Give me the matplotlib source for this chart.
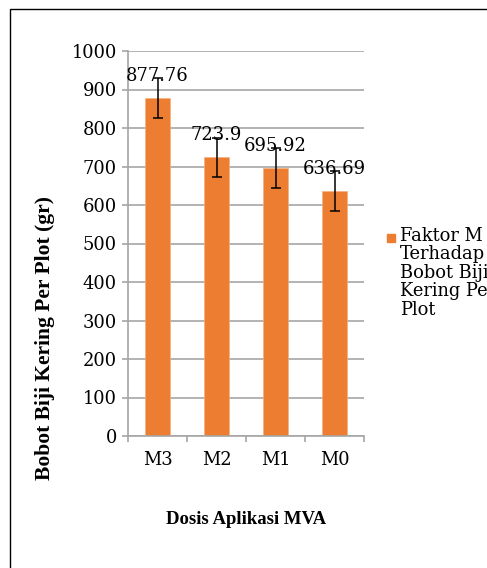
import numpy as np
import matplotlib.pyplot as plt
from matplotlib.patches import Rectangle

categories = ['M3', 'M2', 'M1', 'M0']
values = [877.76, 723.9, 695.92, 636.69]
errors = [52, 51, 52, 51]
value_labels = ['877.76', '723.9', '695.92', '636.69']
legend_label = 'Faktor M\nTerhadap\nBobot Biji\nKering Per\nPlot'

orange = '#ED7D31'
grey = '#A6A6A6'
tick_font = 'DejaVu Serif'
label_font = 'Liberation Serif'
fs = 12.9

fig = plt.figure(figsize=(4.87, 5.68), dpi=100)
W, H = 487, 568

# outer chart border (cut off at right and bottom like the reference)
fig.patches.append(Rectangle((9.5 / W, -0.1), 1.2, 1 - 9.5 / H + 0.1,
                             transform=fig.transFigure, fill=False,
                             edgecolor='black', linewidth=1.0))

ax = fig.add_axes([128 / W, 1 - 436 / H, (364 - 128) / W, (436 - 51) / H])
x = np.arange(len(categories))
ax.bar(x, values, width=0.41, color=orange, edgecolor='#F4B183', linewidth=0.5, zorder=2)
ax.errorbar(x, values, yerr=errors, fmt='none', ecolor='black',
            elinewidth=1.1, capsize=3.3, capthick=1.1, zorder=3)

for xi, v, lab in zip(x, values, value_labels):
    ax.annotate(lab, (xi, v), xytext=(0, 16), textcoords='offset points',
                ha='center', va='center', fontsize=fs, family=tick_font, zorder=4)

ax.set_xlim(-0.5, 3.5)
ax.set_ylim(0, 1000)
ax.set_yticks(np.arange(0, 1001, 100))
ax.set_xticks(x)
ax.set_xticklabels(categories, family=tick_font, fontsize=fs)
for t in ax.get_yticklabels():
    t.set_family(tick_font)
    t.set_fontsize(fs)
ax.set_xticks(np.arange(-0.5, 4, 1), minor=True)
ax.tick_params(axis='x', which='major', length=0, pad=11)
ax.tick_params(axis='x', which='minor', length=4, color=grey, width=1.2)
ax.tick_params(axis='y', length=4, color=grey, width=1.2, pad=4)
ax.grid(axis='y', color=grey, linewidth=1.2, zorder=0)
ax.set_axisbelow(True)
for s in ['top', 'right']:
    ax.spines[s].set_visible(False)
ax.spines['left'].set_color(grey)
ax.spines['bottom'].set_color(grey)
ax.spines['left'].set_linewidth(1.2)
ax.spines['bottom'].set_linewidth(1.2)

fig.text(45 / W, 1 - 338 / H, 'Bobot Biji Kering Per Plot (gr)', rotation=90,
         ha='center', va='center', fontsize=15.5, fontweight='bold', family=label_font)
fig.text(246 / W, 1 - 520 / H, 'Dosis Aplikasi MVA',
         ha='center', va='center', fontsize=13.5, fontweight='bold', family=label_font)

# legend
fig.patches.append(Rectangle((387 / W, 1 - 242 / H), 8 / W, 8 / H,
                             transform=fig.transFigure, color=orange))
fig.text(400 / W, 1 - 227 / H, legend_label, ha='left', va='top',
         fontsize=fs, family=tick_font, linespacing=1.03)

fig.savefig('out.png', dpi=100)
